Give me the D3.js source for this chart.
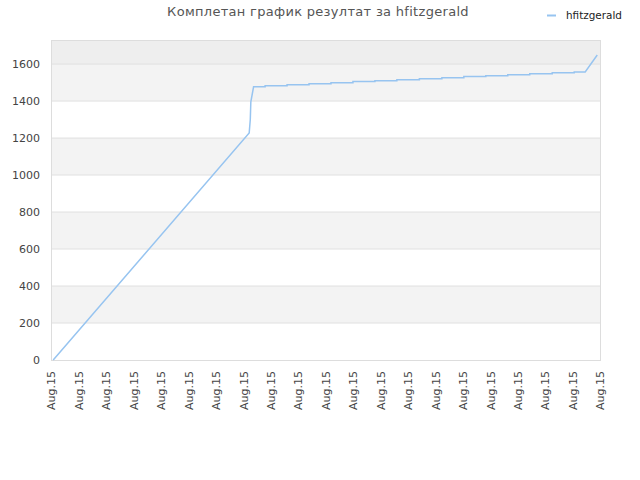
<!DOCTYPE html>
<html>
<head>
<meta charset="utf-8">
<script src="https://cdn.jsdelivr.net/npm/d3@7"></script>
<style>
  body { margin: 0; background: #fff; }
  text { font-family: "DejaVu Sans", sans-serif; }
</style>
</head>
<body>
<div id="chart"></div>
<script>
// Chart data
const title = "Комплетан график резултат за hfitzgerald";
const seriesName = "hfitzgerald";

// ramp and jump (x in plot units 0..100)
const rampX = [0.4, 36.1, 36.3, 36.4, 36.9];
const rampV = [0, 1227, 1300, 1396, 1477];

// flat steps after the jump
const stepStart = [36.9, 39.0, 43.0, 47.0, 51.0, 55.0, 59.0, 63.0, 67.1, 71.2, 75.2, 79.2, 83.2, 87.2, 91.3, 95.3];
const stepEnd   = [39.0, 43.0, 47.0, 51.0, 55.0, 59.0, 63.0, 67.1, 71.2, 75.2, 79.2, 83.2, 87.2, 91.3, 95.3, 97.3];
const stepV     = [1477, 1483, 1488, 1494, 1499, 1505, 1510, 1515, 1521, 1526, 1532, 1537, 1542, 1548, 1553, 1557];

// final rise
const endX = [99.5];
const endV = [1649];

const xTickPos = d3.range(0, 101, 5);
const xTickLabels = xTickPos.map(() => "Aug.15");
const yTicks = [0, 200, 400, 600, 800, 1000, 1200, 1400, 1600];

const width = 640, height = 480;
const margin = { top: 40, right: 40, bottom: 120, left: 51 };

const svg = d3.select("#chart").append("svg")
    .attr("width", width)
    .attr("height", height);

const x = d3.scaleLinear().domain([0, 100]).range([margin.left, width - margin.right]);
const y = d3.scaleLinear().domain([0, 1730]).range([height - margin.bottom, margin.top]);

// background bands
const bandEdges = yTicks.concat([1730]);
for (let i = 0; i < bandEdges.length - 1; i++) {
    let fill = i % 2 === 1 ? "#f3f3f3" : "#ffffff";
    if (i === bandEdges.length - 2) fill = "#eeeeee";
    svg.append("rect")
        .attr("x", x(0))
        .attr("width", x(100) - x(0))
        .attr("y", y(bandEdges[i + 1]))
        .attr("height", y(bandEdges[i]) - y(bandEdges[i + 1]))
        .attr("fill", fill);
}

// grid lines
svg.append("g")
    .selectAll("line")
    .data(yTicks.slice(1))
    .join("line")
    .attr("x1", x(0)).attr("x2", x(100))
    .attr("y1", d => y(d)).attr("y2", d => y(d))
    .attr("stroke", "#e0e0e0");

// frame
svg.append("rect")
    .attr("x", x(0) + 0.5)
    .attr("y", y(1730) + 0.5)
    .attr("width", x(100) - x(0))
    .attr("height", y(0) - y(1730))
    .attr("fill", "none")
    .attr("stroke", "#dddddd");

// y axis
const yAxis = svg.append("g")
    .attr("transform", `translate(${x(0)},0)`)
    .call(d3.axisLeft(y).tickValues(yTicks).tickSize(0).tickPadding(11)
        .tickFormat(d3.format("d")));
yAxis.select(".domain").remove();
yAxis.selectAll("text")
    .attr("fill", "#444")
    .style("font-size", "11px");

// x axis
const xAxis = svg.append("g")
    .attr("transform", `translate(0,${y(0)})`)
    .call(d3.axisBottom(x).tickValues(xTickPos).tickSize(0)
        .tickFormat((d, i) => xTickLabels[i]));
xAxis.select(".domain").attr("stroke", "#dddddd");
xAxis.selectAll("text")
    .attr("fill", "#444")
    .style("font-size", "11px")
    .attr("text-anchor", "end")
    .attr("transform", "rotate(-90)")
    .attr("x", -11)
    .attr("y", 0)
    .attr("dy", "0.35em");

// build line points from the arrays
const points = rampX.map((d, i) => [d, rampV[i]]);
stepStart.forEach((s, i) => {
    points.push([s, stepV[i]]);
    points.push([stepEnd[i], stepV[i]]);
});
endX.forEach((d, i) => points.push([d, endV[i]]));

const line = d3.line()
    .x(d => x(d[0]))
    .y(d => y(d[1]));

svg.append("path")
    .datum(points)
    .attr("d", line)
    .attr("fill", "none")
    .attr("stroke", "#97c4f0")
    .attr("stroke-width", 1.5);

// title
svg.append("text")
    .attr("x", 318)
    .attr("y", 16)
    .attr("text-anchor", "middle")
    .attr("fill", "#555")
    .style("font-size", "13px")
    .style("letter-spacing", "0.3px")
    .text(title);

// legend
svg.append("line")
    .attr("x1", 547).attr("x2", 556)
    .attr("y1", 15.5).attr("y2", 15.5)
    .attr("stroke", "#97c4f0")
    .attr("stroke-width", 2);
svg.append("text")
    .attr("x", 566)
    .attr("y", 19)
    .attr("fill", "#222")
    .style("font-size", "11px")
    .attr("textLength", 56)
    .attr("lengthAdjust", "spacingAndGlyphs")
    .text(seriesName);
</script>
</body>
</html>
